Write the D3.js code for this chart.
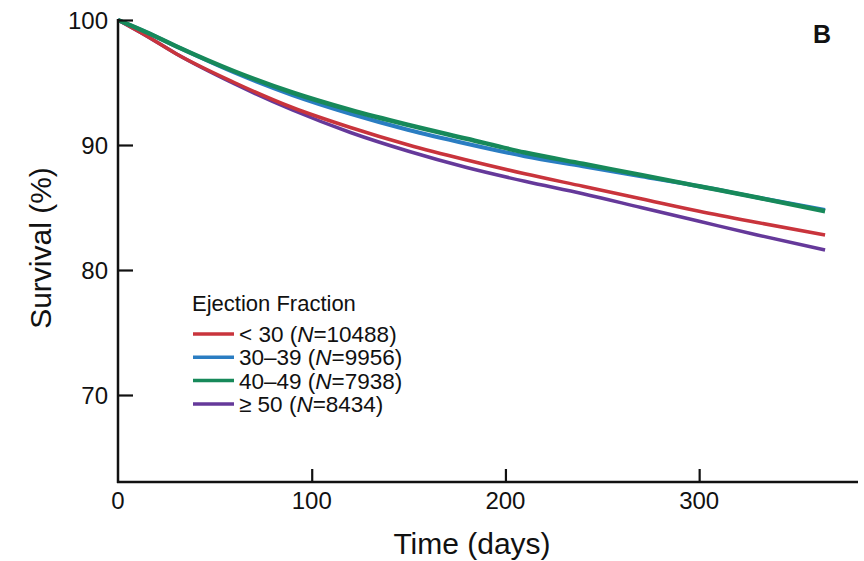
<!DOCTYPE html>
<html>
<head>
<meta charset="utf-8">
<script src="https://cdn.jsdelivr.net/npm/d3@7"></script>
<style>
  body { margin: 0; background: #fff; }
  svg text { font-family: "Liberation Sans", Arial, sans-serif; fill: #111; }
</style>
</head>
<body>
<svg id="chart" width="864" height="561"></svg>
<script>
// survival curves (days, %)
var days = [0, 15, 30, 60, 90, 120, 150, 180, 210, 240, 270, 300, 330, 365];
var efLt30 = [100, 98.7, 97.3, 95.0, 93.0, 91.4, 90.0, 88.8, 87.7, 86.7, 85.7, 84.7, 83.8, 82.8];
var ef3039 = [100, 99.0, 97.9, 95.8, 94.0, 92.5, 91.2, 90.1, 89.1, 88.3, 87.5, 86.7, 85.8, 84.8];
var ef4049 = [100, 99.0, 97.9, 95.9, 94.2, 92.8, 91.6, 90.5, 89.4, 88.5, 87.6, 86.7, 85.8, 84.7];
var efGe50 = [100, 98.7, 97.3, 94.9, 92.8, 91.0, 89.5, 88.2, 87.1, 86.1, 85.0, 83.9, 82.8, 81.6];

var groupNames = ["< 30", "30\u201339", "40\u201349", "\u2265 50"];
var groupN = ["10488", "9956", "7938", "8434"];
var groupColors = ["#c9343c", "#2a7dc2", "#17895a", "#65399a"];
var groupWidths = [3.5, 4, 4.5, 3.5];

var xTicks = [0, 100, 200, 300];
var yTicks = [70, 80, 90, 100];

var svg = d3.select("#chart");

var x = d3.scaleLinear().domain([0, 382]).range([118, 858]);
var y = d3.scaleLinear().domain([63.04, 100]).range([482, 20]);

var series = [efLt30, ef3039, ef4049, efGe50];

// draw purple first, then red, blue, green on top
var drawOrder = [3, 0, 1, 2];
var line = d3.line()
    .x(function(d, i) { return x(days[i]); })
    .y(function(d) { return y(d); })
    .curve(d3.curveMonotoneX);

drawOrder.forEach(function(k) {
  svg.append("path")
    .datum(series[k])
    .attr("d", line)
    .attr("fill", "none")
    .attr("stroke", groupColors[k])
    .attr("stroke-width", groupWidths[k])
    .attr("stroke-linecap", "butt");
});

// axes
var yAxis = d3.axisRight(y).tickValues(yTicks).tickSize(15).tickFormat("");
var gy = svg.append("g").attr("transform", "translate(118,0)").call(yAxis);
gy.select(".domain").remove();
gy.selectAll(".tick line").attr("stroke", "#111").attr("stroke-width", 2.2);

svg.selectAll(".ylab")
  .data(yTicks)
  .enter()
  .append("text")
  .attr("class", "ylab")
  .attr("x", 108)
  .attr("y", function(d) { return y(d); })
  .attr("dy", "0.36em")
  .attr("text-anchor", "end")
  .attr("font-size", 24)
  .text(function(d) { return d; });

var xAxis = d3.axisTop(x).tickValues(xTicks.slice(1)).tickSize(13).tickFormat("");
var gx = svg.append("g").attr("transform", "translate(0,482)").call(xAxis);
gx.select(".domain").remove();
gx.selectAll(".tick line").attr("stroke", "#111").attr("stroke-width", 2.2);

svg.selectAll(".xlab")
  .data(xTicks)
  .enter()
  .append("text")
  .attr("class", "xlab")
  .attr("x", function(d) { return x(d); })
  .attr("y", 509)
  .attr("text-anchor", "middle")
  .attr("font-size", 24)
  .text(function(d) { return d; });

// axis lines
svg.append("line")
  .attr("x1", 118).attr("x2", 118)
  .attr("y1", y(100) - 1).attr("y2", 483)
  .attr("stroke", "#111").attr("stroke-width", 2.5);
svg.append("line")
  .attr("x1", 117).attr("x2", x(382))
  .attr("y1", 482).attr("y2", 482)
  .attr("stroke", "#111").attr("stroke-width", 2.5);

// titles
svg.append("text")
  .attr("x", 472).attr("y", 554)
  .attr("text-anchor", "middle")
  .attr("font-size", 30)
  .text("Time (days)");

svg.append("text")
  .attr("transform", "translate(51,248) rotate(-90)")
  .attr("text-anchor", "middle")
  .attr("font-size", 30)
  .text("Survival (%)");

svg.append("text")
  .attr("x", 822).attr("y", 43)
  .attr("text-anchor", "middle")
  .attr("font-size", 25)
  .attr("font-weight", "bold")
  .text("B");

// legend
var legend = svg.append("g").attr("transform", "translate(192,0)");
legend.append("text")
  .attr("x", 0).attr("y", 311)
  .attr("font-size", 22)
  .text("Ejection Fraction");

groupNames.forEach(function(name, i) {
  var ly = 334 + i * 23.3;
  legend.append("line")
    .attr("x1", 1).attr("x2", 42)
    .attr("y1", ly).attr("y2", ly)
    .attr("stroke", groupColors[i])
    .attr("stroke-width", 3.5);
  var t = legend.append("text")
    .attr("x", 47).attr("y", ly)
    .attr("dy", "0.36em")
    .attr("font-size", 22.5);
  t.append("tspan").text(name + " (");
  t.append("tspan").attr("font-style", "italic").text("N");
  t.append("tspan").text("=" + groupN[i] + ")");
});
</script>
</body>
</html>
